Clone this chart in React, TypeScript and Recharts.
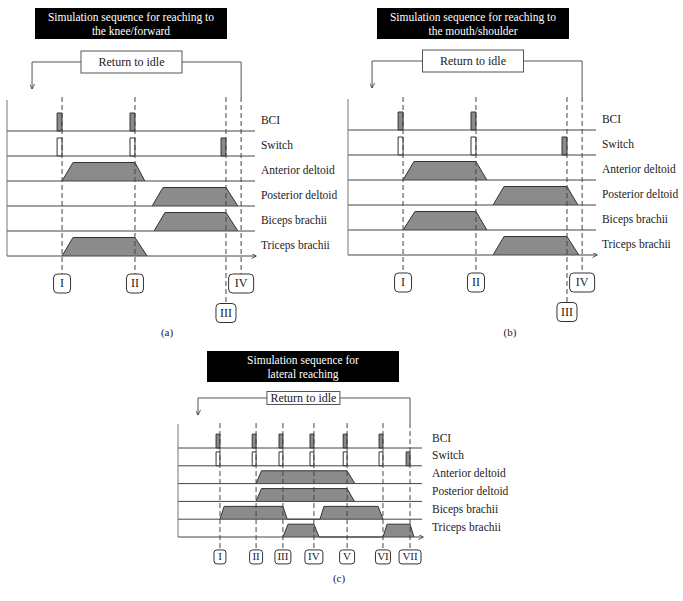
import React from 'react';
import { ComposedChart, XAxis, YAxis, Area, Line, Scatter, ReferenceLine, ReferenceArea } from 'recharts';

// row names, top to bottom
const ROWS = ['BCI', 'Switch', 'Anterior deltoid', 'Posterior deltoid', 'Biceps brachii', 'Triceps brachii'];

// (a) reaching to the knee/forward  (time: 0 = y axis, 100 = end of x axis)
const A_EVENTS = ['I', 'II', 'III', 'IV'];
const A_EVENT_T = [22.2, 51.6, 88.3, 94.4];
const A_EVENT_LOW = [false, false, true, false];
const A_BCI = [22.2, 51.6];
const A_SWITCH_OPEN = [22.2, 51.6];
const A_SWITCH_ON = [88.3];
const A_ANTERIOR = [[22.2, 26.6, 51.6, 55.6]];
const A_POSTERIOR = [[58.5, 62.9, 88.3, 93.1]];
const A_BICEPS = [[59.3, 63.7, 88.3, 93.1]];
const A_TRICEPS = [[22.2, 26.6, 51.6, 56.5]];

// (b) reaching to the mouth/shoulder
const B_EVENTS = ['I', 'II', 'III', 'IV'];
const B_EVENT_T = [22.2, 51.6, 88.3, 94.4];
const B_EVENT_LOW = [false, false, true, false];
const B_BCI = [22.2, 51.6];
const B_SWITCH_OPEN = [22.2, 51.6];
const B_SWITCH_ON = [88.3];
const B_ANTERIOR = [[22.2, 26.6, 51.6, 56.0]];
const B_POSTERIOR = [[58.5, 62.9, 88.3, 92.7]];
const B_BICEPS = [[22.2, 27.0, 51.6, 56.0]];
const B_TRICEPS = [[58.5, 62.9, 88.3, 93.1]];

// (c) lateral reaching
const C_EVENTS = ['I', 'II', 'III', 'IV', 'V', 'VI', 'VII'];
const C_EVENT_T = [17.2, 32.0, 43.0, 55.7, 69.3, 84.0, 95.1];
const C_EVENT_LOW = [false, false, false, false, false, false, false];
const C_BCI = [17.2, 32.0, 43.0, 55.7, 69.3, 84.0];
const C_SWITCH_OPEN = [17.2, 32.0, 43.0, 55.7, 69.3, 84.0];
const C_SWITCH_ON = [95.1];
const C_ANTERIOR = [[32.0, 34.2, 69.3, 72.5]];
const C_POSTERIOR = [[32.0, 34.2, 69.3, 72.3]];
const C_BICEPS = [[17.2, 18.9, 43.0, 44.8], [58.2, 59.8, 82.0, 84.0]];
const C_TRICEPS = [[43.0, 45.1, 55.7, 57.8], [84.0, 85.7, 95.1, 96.7]];

const SERIF = '"Liberation Serif", "DejaVu Serif", serif';
const GRAY = '#8b8b8b';
const INK = '#333';

const LAYOUT_A = {
  id: 'a', left: 0, top: 40, width: 340, height: 290, x0: 7, pxT: 2.48, y0: 256, pxR: 25,
  pulseW: 2, pulseH: 0.72, rampH: 0.74, dashTop: 6.36, axisTop: 6.24,
  boxR: -1.1, boxTopR: -0.72, boxLowR: -2.28, boxLowTopR: -1.88, boxH: 19, boxFont: 12, boxRadius: 4,
  boxW: { I: 17, II: 17, III: 20, IV: 25 } as Record<string, number>,
  labelT: 102.4, labelDy: -10,
  retLeftT: 10.1, retTopR: 7.76, retTipR: 6.68, retBoxT: 50.2, retBoxW: 101, retBoxH: 22,
};
const LAYOUT_B = { ...LAYOUT_A, id: 'b', left: 341, x0: 348, y0: 255, dashTop: 6.32, retLeftT: 9.7, retBoxT: 50.4 };
const LAYOUT_C = {
  id: 'c', left: 170, top: 385, width: 350, height: 190, x0: 178, pxT: 2.44, y0: 537, pxR: 17.8,
  pulseW: 1.6, pulseH: 0.78, rampH: 0.72, dashTop: 6.4, axisTop: 6.35,
  boxR: -1.12, boxTopR: -0.73, boxLowR: -1.12, boxLowTopR: -0.73, boxH: 14, boxFont: 11, boxRadius: 3,
  boxW: { I: 12, II: 13, III: 16, IV: 18, V: 15, VI: 15, VII: 22 } as Record<string, number>,
  labelT: 104.1, labelDy: -9,
  retLeftT: 8.2, retTopR: 7.81, retTipR: 6.85, retBoxT: 51.4, retBoxW: 73, retBoxH: 13,
};

const Panel = ({ L, d }: { L: any; d: any }) => {
  const xDomain = [(L.left - L.x0) / L.pxT, (L.left + L.width - L.x0) / L.pxT];
  const yDomain = [(L.y0 - L.top - L.height) / L.pxR, (L.y0 - L.top) / L.pxR];
  const base = (i: number) => ROWS.length - 1 - i;
  const trap = (i: number, list: number[][]) =>
    list.flatMap(([a, b, c, e]) => [
      { t: a, r: base(i) },
      { t: b, r: base(i) + L.rampH },
      { t: c, r: base(i) + L.rampH },
      { t: e, r: base(i) },
    ]);
  const muscles = [d.anterior, d.posterior, d.biceps, d.triceps];
  const lastT = d.eventT[d.eventT.length - 1];
  const retLine = [
    { t: lastT, r: L.dashTop },
    { t: lastT, r: L.retTopR },
    { t: L.retLeftT, r: L.retTopR },
    { t: L.retLeftT, r: L.retTipR },
  ];
  const xAxisLine = [{ t: 0, r: 0 }, { t: 100.6, r: 0 }];
  const arrowId = `arrow-${L.id}`;

  return (
    <div style={{ position: 'absolute', left: L.left, top: L.top }}>
      <ComposedChart width={L.width} height={L.height} margin={{ top: 0, right: 0, bottom: 0, left: 0 }}>
        <defs>
          <marker id={arrowId} viewBox="0 0 10 10" refX="10" refY="5" markerWidth="5" markerHeight="5" orient="auto" markerUnits="userSpaceOnUse">
            <path d="M0,0 L10,5 L0,10" fill="none" stroke={INK} strokeWidth={1.6} />
          </marker>
        </defs>
        <XAxis type="number" dataKey="t" domain={xDomain} hide allowDataOverflow />
        <YAxis type="number" dataKey="r" domain={yDomain} hide allowDataOverflow />

        {/* muscle activation ramps */}
        {muscles.map((m: number[][], k: number) => (
          <Area
            key={`m${k}`}
            data={trap(k + 2, m)}
            dataKey="r"
            type="linear"
            baseValue={base(k + 2)}
            stroke={INK}
            strokeWidth={1}
            fill={GRAY}
            fillOpacity={1}
            dot={false}
            activeDot={false}
            isAnimationActive={false}
          />
        ))}

        {/* row lines and axes */}
        {ROWS.slice(0, 5).map((_, i) => (
          <ReferenceLine key={`row${i}`} segment={[{ x: 0, y: base(i) }, { x: 100, y: base(i) }]} stroke="#444" strokeWidth={1} />
        ))}
        <Line data={xAxisLine} dataKey="r" type="linear" stroke="#444" strokeWidth={1} dot={false} activeDot={false} isAnimationActive={false} markerEnd={`url(#${arrowId})`} />
        <ReferenceLine segment={[{ x: 0, y: 0 }, { x: 0, y: L.axisTop }]} stroke="#777" strokeWidth={1} />

        {/* BCI and switch pulses */}
        {d.bci.map((t: number, j: number) => (
          <ReferenceArea key={`bci${j}`} x1={t - L.pulseW} x2={t} y1={base(0)} y2={base(0) + L.pulseH} fill={GRAY} fillOpacity={1} stroke={INK} strokeWidth={1} />
        ))}
        {d.switchOpen.map((t: number, j: number) => (
          <ReferenceArea key={`swo${j}`} x1={t - L.pulseW} x2={t} y1={base(1)} y2={base(1) + L.pulseH} fill="#fff" fillOpacity={1} stroke={INK} strokeWidth={1} />
        ))}
        {d.switchOn.map((t: number, j: number) => (
          <ReferenceArea key={`swn${j}`} x1={t - L.pulseW} x2={t} y1={base(1)} y2={base(1) + L.pulseH} fill={GRAY} fillOpacity={1} stroke={INK} strokeWidth={1} />
        ))}

        {/* event markers */}
        {d.eventT.map((t: number, j: number) => (
          <ReferenceLine
            key={`ev${j}`}
            segment={[{ x: t, y: L.dashTop }, { x: t, y: d.eventLow[j] ? L.boxLowTopR : L.boxTopR }]}
            stroke="#444"
            strokeWidth={1}
            strokeDasharray="5 3"
          />
        ))}

        {/* return to idle */}
        <Line data={retLine} dataKey="r" type="linear" stroke="#555" strokeWidth={1} dot={false} activeDot={false} isAnimationActive={false} markerEnd={`url(#${arrowId})`} />
        <Scatter
          data={[{ t: L.retBoxT, r: L.retTopR, name: 'Return to idle' }]}
          isAnimationActive={false}
          shape={(p: any) => (
            <g>
              <rect x={p.cx - L.retBoxW / 2} y={p.cy - L.retBoxH / 2} width={L.retBoxW} height={L.retBoxH} fill="#fff" stroke="#555" strokeWidth={1} />
              <text x={p.cx} y={p.cy + 1} textAnchor="middle" dominantBaseline="middle" fontFamily={SERIF} fontSize={12} fill="#222">
                {p.payload.name}
              </text>
            </g>
          )}
        />

        <Scatter
          data={d.events.map((name: string, j: number) => ({ t: d.eventT[j], r: d.eventLow[j] ? L.boxLowR : L.boxR, name }))}
          isAnimationActive={false}
          shape={(p: any) => {
            const w = L.boxW[p.payload.name] || 16;
            return (
              <g>
                <rect x={p.cx - w / 2} y={p.cy - L.boxH / 2} width={w} height={L.boxH} rx={L.boxRadius} fill="#fff" stroke="#333" strokeWidth={1} />
                <text x={p.cx} y={p.cy + 1} textAnchor="middle" dominantBaseline="middle" fontFamily={SERIF} fontSize={L.boxFont} fill="#222">
                  {p.payload.name}
                </text>
              </g>
            );
          }}
        />

        {/* row labels */}
        <Scatter
          data={ROWS.map((name, i) => ({ t: L.labelT, r: base(i), name }))}
          isAnimationActive={false}
          shape={(p: any) => (
            <text x={p.cx} y={p.cy + L.labelDy} dominantBaseline="middle" fontFamily={SERIF} fontSize={11.5} fill="#222">
              {p.payload.name}
            </text>
          )}
        />
      </ComposedChart>
    </div>
  );
};

const Title = ({ left, top, lines }: { left: number; top: number; lines: string[] }) => (
  <div
    style={{
      position: 'absolute', left, top, width: 192, height: 31, background: '#000', color: '#fff',
      fontFamily: SERIF, fontSize: 11.5, lineHeight: '14px', textAlign: 'center',
      display: 'flex', flexDirection: 'column', justifyContent: 'center',
    }}
  >
    {lines.map((s) => <div key={s}>{s}</div>)}
  </div>
);

const Caption = ({ x, y, text }: { x: number; y: number; text: string }) => (
  <div style={{ position: 'absolute', left: x - 15, top: y - 7, width: 30, textAlign: 'center', fontFamily: SERIF, fontSize: 11, lineHeight: '14px', color: '#222' }}>
    {text}
  </div>
);

export default function App() {
  return (
    <div style={{ position: 'absolute', left: 0, top: 0, width: 683, height: 601, background: '#fff', overflow: 'hidden' }}>
      <Title left={35} top={8} lines={['Simulation sequence for reaching to', 'the knee/forward']} />
      <Title left={377} top={8} lines={['Simulation sequence for reaching to', 'the mouth/shoulder']} />
      <Title left={207} top={351} lines={['Simulation sequence for', 'lateral reaching']} />
      <Panel
        L={LAYOUT_A}
        d={{ events: A_EVENTS, eventT: A_EVENT_T, eventLow: A_EVENT_LOW, bci: A_BCI, switchOpen: A_SWITCH_OPEN, switchOn: A_SWITCH_ON, anterior: A_ANTERIOR, posterior: A_POSTERIOR, biceps: A_BICEPS, triceps: A_TRICEPS }}
      />
      <Panel
        L={LAYOUT_B}
        d={{ events: B_EVENTS, eventT: B_EVENT_T, eventLow: B_EVENT_LOW, bci: B_BCI, switchOpen: B_SWITCH_OPEN, switchOn: B_SWITCH_ON, anterior: B_ANTERIOR, posterior: B_POSTERIOR, biceps: B_BICEPS, triceps: B_TRICEPS }}
      />
      <Panel
        L={LAYOUT_C}
        d={{ events: C_EVENTS, eventT: C_EVENT_T, eventLow: C_EVENT_LOW, bci: C_BCI, switchOpen: C_SWITCH_OPEN, switchOn: C_SWITCH_ON, anterior: C_ANTERIOR, posterior: C_POSTERIOR, biceps: C_BICEPS, triceps: C_TRICEPS }}
      />
      <Caption x={167} y={332} text="(a)" />
      <Caption x={510} y={332} text="(b)" />
      <Caption x={339} y={578} text="(c)" />
    </div>
  );
}
